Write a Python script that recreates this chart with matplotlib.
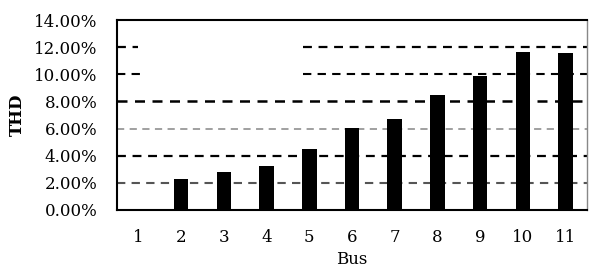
import matplotlib
matplotlib.use("Agg")
import matplotlib.pyplot as plt
from matplotlib.ticker import FuncFormatter

buses = ["1", "2", "3", "4", "5", "6", "7", "8", "9", "10", "11"]
thd = [0.0, 2.28, 2.82, 3.27, 4.47, 6.02, 6.70, 8.50, 9.87, 11.64, 11.55]
yticks = [0, 2, 4, 6, 8, 10, 12, 14]

plt.rcParams['font.family'] = ['DejaVu Serif']

fig = plt.figure(figsize=(5.89, 2.76), dpi=100)
ax = fig.add_axes([117/589, 66/276, 470/589, 190/276])

x = list(range(1, len(buses) + 1))

# gridlines
grid_styles = {2: ('#555555', 1.5), 4: ('black', 1.6), 6: ('#999999', 1.3),
               8: ('black', 1.8), 10: ('black', 1.5), 12: ('black', 1.6)}
for yv, (c, lw) in grid_styles.items():
    if yv in (10, 12):
        ax.axhline(yv, xmin=0.0, xmax=0.045 if yv == 12 else 0.05, color=c, lw=lw,
                   linestyle=(0, (4, 3)), zorder=1)
        ax.axhline(yv, xmin=0.395, xmax=1.0, color=c, lw=lw,
                   linestyle=(0, (4, 3)), zorder=1)
    else:
        ax.axhline(yv, color=c, lw=lw, linestyle=(0, (4, 3)), zorder=1)

ax.bar(x, thd, width=0.34, color='black', zorder=2)

ax.set_xlim(0.5, 11.5)
ax.set_ylim(0, 14)
ax.set_yticks(yticks)
ax.yaxis.set_major_formatter(FuncFormatter(lambda v, p: f"{v:.2f}%"))
ax.set_xticks(x)
ax.set_xticklabels(buses)
ax.tick_params(axis='both', length=0, labelsize=12)
ax.tick_params(axis='x', pad=14)
ax.tick_params(axis='y', pad=14)

for s in ['left', 'bottom', 'top']:
    ax.spines[s].set_linewidth(1.5)
    ax.spines[s].set_color('black')
ax.spines['right'].set_color('#888888')
ax.spines['right'].set_linewidth(1.0)

ax.set_xlabel("Bus", fontsize=12, labelpad=3)
ax.set_ylabel("THD", fontsize=12, fontweight='bold', labelpad=6)

fig.savefig("out.png", dpi=100)
